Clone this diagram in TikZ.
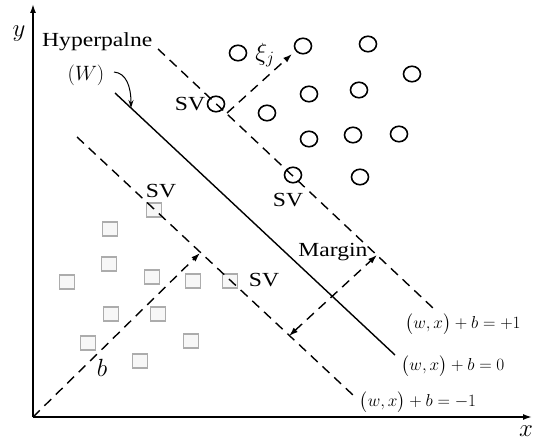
\documentclass[tikz,border=0pt]{standalone}
\usepackage{fontspec}
\setmainfont{Liberation Serif}[FakeStretch=1.18]
\usepackage{amsmath}
\usetikzlibrary{arrows.meta,shapes.geometric}

\tikzset{
  pt/.style={ellipse, draw, line width=1.6pt, minimum width=17pt, minimum height=15.5pt, inner sep=0pt},
  sq/.style={rectangle, draw=gray!65, fill=gray!6, line width=1.5pt, minimum width=15pt, minimum height=14pt, inner sep=0pt},
  mline/.style={dash pattern=on 9.5pt off 6.5pt, line width=1.4pt},
  tip/.style={-{Latex[length=9pt,width=6pt]}},
  lbl/.style={font=\fontsize{20}{22}\selectfont, inner sep=0pt},
  mlbl/.style={font=\fontsize{23}{25}\selectfont, inner sep=0pt},
  eq/.style={font=\fontsize{18.5}{21}\selectfont, inner sep=0pt}
}

\begin{document}
\begin{tikzpicture}[x=1pt,y=-1pt]
  \useasboundingbox (0,0) rectangle (533,441);

  % axes
  \coordinate (O) at (33,417);
  \coordinate (Ytop) at (33,4);
  \coordinate (Xend) at (532,417);
  \draw[line width=1.6pt, tip] (O) -- (Ytop);
  \draw[line width=1.6pt, tip] (O) -- (Xend);
  \node[mlbl] (ylab) at (19,34) {$y$};
  \node[mlbl] (xlab) at (526,431) {$x$};

  % data points
  \foreach \p [count=\i] in {(154,210),(110,229),(109,264),(67,282),(152,277),(193,281),
      (230,281),(111,314),(158,314),(88,343),(191,341),(140,361)}
    \node[sq] (s\i) at \p {};
  \foreach \p [count=\i] in {(238,53),(303,46),(368,44),(412,74),(216,104),(267,113),(309,94),
      (359,90),(309,139),(353,135),(399,134),(293,175),(360,177)}
    \node[pt] (c\i) at \p {};

  % hyperplane and margins
  \coordinate (Hza) at (115,93);
  \coordinate (Hzb) at (395,355);
  \coordinate (Hpa) at (158,49);
  \coordinate (Hpb) at (433,308);
  \coordinate (Hma) at (77,137);
  \coordinate (Hmb) at (353,395);
  \draw[line width=1.4pt] (Hza) -- (Hzb);
  \draw[mline] (Hpa) -- (Hpb);
  \draw[mline] (Hma) -- (Hmb);

  % b, slack and margin arrows
  \coordinate (bT) at (200,253);
  \draw[mline, tip] (O) -- (bT);
  \coordinate (xiS) at (227,113);
  \coordinate (xiT) at (292,54);
  \draw[mline, tip] (xiS) -- (xiT);
  \coordinate (mU) at (377,255);
  \coordinate (mL) at (289,336);
  \draw[mline, {Latex[length=9pt,width=6pt]}-{Latex[length=9pt,width=6pt]}] (mL) -- (mU);

  % hyperplane label
  \node[lbl, anchor=base west] (hyp) at (42,47) {Hyperpalne};
  \node[lbl] (wlab) at (86,75) {$(W)$};
  \coordinate (wS) at (114,72);
  \coordinate (wT) at (131,108);
  \draw[line width=1pt, -{Stealth[length=8pt,width=5pt]}] (wS) .. controls (126,73) and (131,86) .. (wT);

  % support vector labels
  \node[lbl] (sv1) at (190,104) {SV};
  \node[lbl] (sv2) at (288,200) {SV};
  \node[lbl] (sv3) at (161,191) {SV};
  \node[lbl] (sv4) at (264,280) {SV};
  \node[lbl] (mrg) at (333,252) {Margin};
  \node[mlbl] (blab) at (102,368) {$b$};
  \node[mlbl] (xilab) at (265,55) {$\xi_j$};

  % equations
  \node[eq] (eqp) at (463,324) {$\bigl(w,x\bigr)+b=+1$};
  \node[eq] (eqz) at (453,366) {$\bigl(w,x\bigr)+b=0$};
  \node[eq] (eqm) at (418,402) {$\bigl(w,x\bigr)+b=-1$};
\end{tikzpicture}
\end{document}
